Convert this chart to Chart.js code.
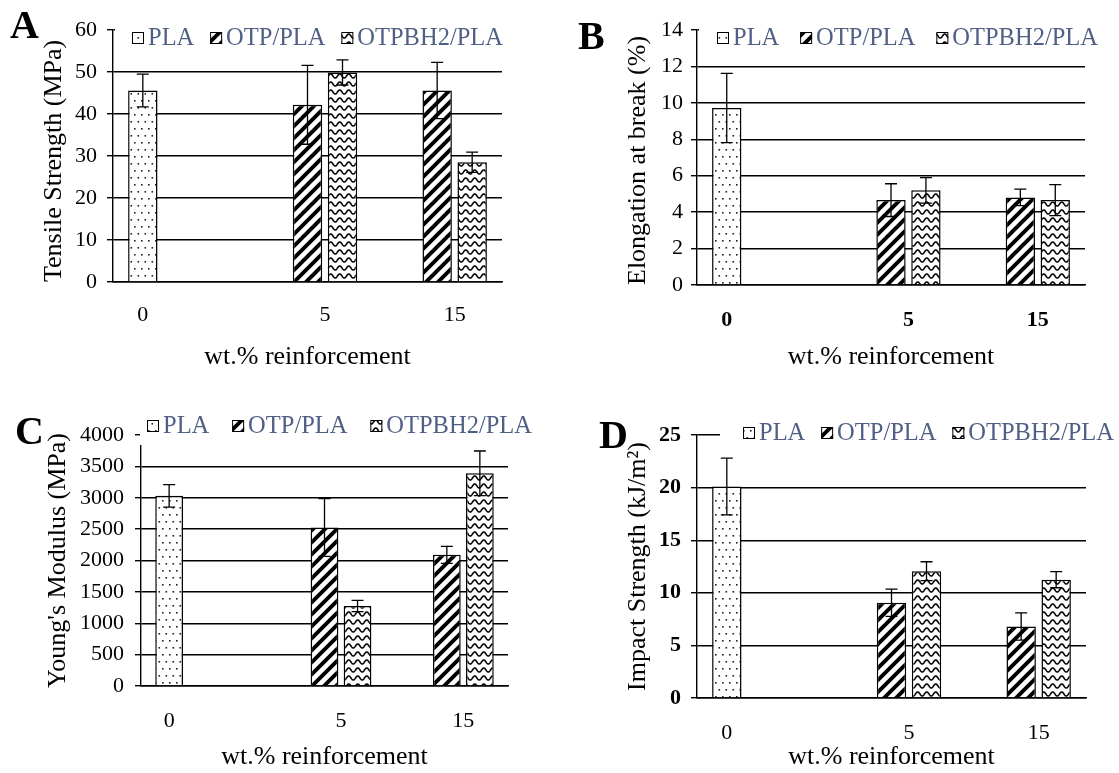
<!DOCTYPE html>
<html><head><meta charset="utf-8">
<script src="https://cdn.jsdelivr.net/npm/chart.js@4.4.1/dist/chart.umd.min.js"></script>
<style>
html,body{margin:0;padding:0;background:#fff;width:1119px;height:773px;overflow:hidden;position:relative}
canvas{position:absolute}
.lab{position:absolute;font-family:'Liberation Serif','Times New Roman',serif;font-weight:bold;font-size:40px;line-height:1;color:#000}
</style></head><body>
<canvas id="cA" width="560" height="386" style="left:0;top:0"></canvas>
<canvas id="cB" width="559" height="386" style="left:560px;top:0"></canvas>
<canvas id="cC" width="560" height="387" style="left:0;top:386px"></canvas>
<canvas id="cD" width="559" height="387" style="left:560px;top:386px"></canvas>
<div class="lab" style="left:10px;top:5px">A</div>
<div class="lab" style="left:578px;top:16px">B</div>
<div class="lab" style="left:15px;top:411px">C</div>
<div class="lab" style="left:599px;top:415px">D</div>
<script>
// ---------------- DATA ----------------
const categories = ['0', '5', '15'];
const seriesNames = ['PLA', 'OTP/PLA', 'OTPBH2/PLA'];
const xTitle = 'wt.% reinforcement';

// A: Tensile strength (MPa)
const tensilePLA = [45.6, null, null];
const tensileOTP = [null, 42.2, 45.6];
const tensileOTPBH2 = [null, 49.9, 28.5];
const tensilePLAErr = [3.9, null, null];
const tensileOTPErr = [null, 9.4, 6.7];
const tensileOTPBH2Err = [null, 3.0, 2.4];
const tensileTicks = [0, 10, 20, 30, 40, 50, 60];

// B: Elongation at break (%)
const elongPLA = [9.72, null, null];
const elongOTP = [null, 4.66, 4.81];
const elongOTPBH2 = [null, 5.2, 4.66];
const elongPLAErr = [1.9, null, null];
const elongOTPErr = [null, 0.9, 0.45];
const elongOTPBH2Err = [null, 0.7, 0.85];
const elongTicks = [0, 2, 4, 6, 8, 10, 12, 14];

// C: Young's modulus (MPa)
const modulusPLA = [3030, null, null];
const modulusOTP = [null, 2525, 2090];
const modulusOTPBH2 = [null, 1275, 3390];
const modulusPLAErr = [180, null, null];
const modulusOTPErr = [null, 460, 135];
const modulusOTPBH2Err = [null, 90, 355];
const modulusTicks = [0, 500, 1000, 1500, 2000, 2500, 3000, 3500, 4000];

// D: Impact strength (kJ/m2)
const impactPLA = [20.1, null, null];
const impactOTP = [null, 9.05, 6.8];
const impactOTPBH2 = [null, 12.05, 11.25];
const impactPLAErr = [2.7, null, null];
const impactOTPErr = [null, 1.3, 1.3];
const impactOTPBH2Err = [null, 0.9, 0.77];
const impactTicks = [0, 5, 10, 15, 20, 25];

// ---------------- STYLE / HELPERS ----------------
const FONT = "'Liberation Serif','Times New Roman',serif";

function tile(w, h, draw) {
  const c = document.createElement('canvas');
  c.width = w; c.height = h;
  const g = c.getContext('2d');
  g.fillStyle = '#fff'; g.fillRect(0, 0, w, h);
  draw(g, w, h);
  return c;
}
function makePatterns(ctx) {
  const dots = ctx.createPattern(tile(7, 14, g => {
    g.fillStyle = '#222';
    g.fillRect(1, 2, 1.6, 1.6);
    g.fillRect(4.5, 9, 1.6, 1.6);
  }), 'repeat');
  const stripes = ctx.createPattern(tile(12, 12, g => {
    g.strokeStyle = '#000'; g.lineWidth = 3.9;
    for (const k of [-12, 0, 12]) {
      g.beginPath(); g.moveTo(k - 3, 15); g.lineTo(k + 15, -3); g.stroke();
    }
  }), 'repeat');
  const wave = ctx.createPattern(tile(9, 8, g => {
    g.strokeStyle = '#000'; g.lineWidth = 1.6; g.beginPath();
    for (let x = -1; x <= 10; x += 0.25) {
      const y = 4 + 2 * Math.sin(2 * Math.PI * x / 9);
      if (x === -1) g.moveTo(x, y); else g.lineTo(x, y);
    }
    g.stroke();
  }), 'repeat');
  return [dots, stripes, wave];
}

const errorBarPlugin = {
  id: 'errorBars',
  afterDatasetsDraw(chart, args, o) {
    const ctx = chart.ctx, ys = chart.scales.y;
    ctx.save();
    ctx.strokeStyle = '#000'; ctx.lineWidth = 1.3;
    chart.data.datasets.forEach((ds, di) => {
      const meta = chart.getDatasetMeta(di);
      ds.data.forEach((v, i) => {
        const e = ds.errors[i];
        if (v == null || e == null) return;
        const x = meta.data[i].x;
        const yt = ys.getPixelForValue(v + e), yb = ys.getPixelForValue(v - e);
        const cap = 6;
        ctx.beginPath();
        ctx.moveTo(x, yt); ctx.lineTo(x, yb);
        ctx.moveTo(x - cap, yt); ctx.lineTo(x + cap, yt);
        ctx.moveTo(x - cap, yb); ctx.lineTo(x + cap, yb);
        ctx.stroke();
      });
    });
    ctx.restore();
  }
};

const groupLabelPlugin = {
  id: 'groupLabels',
  afterDraw(chart, args, o) {
    const ctx = chart.ctx;
    ctx.save();
    ctx.font = (o.bold ? 'bold ' : '') + o.size + 'px ' + FONT;
    ctx.fillStyle = '#000'; ctx.textAlign = 'center'; ctx.textBaseline = 'middle';
    chart.data.labels.forEach((lab, i) => {
      const xs = [];
      chart.data.datasets.forEach((ds, di) => {
        if (ds.data[i] != null) xs.push(chart.getDatasetMeta(di).data[i].x);
      });
      if (!xs.length) return;
      const x = xs.reduce((a, b) => a + b, 0) / xs.length;
      ctx.fillText(lab, x, chart.chartArea.bottom + o.offset);
    });
    ctx.restore();
  }
};

const legendPlugin = {
  id: 'patternLegend',
  afterDraw(chart, args, o) {
    const ctx = chart.ctx;
    ctx.save();
    ctx.font = o.size + 'px ' + FONT;
    const box = 12, boxGap = 4;
    const items = chart.data.datasets.map(ds => ({label: ds.label, fill: ds.backgroundColor, w: ctx.measureText(ds.label).width}));
    const fixed = items.reduce((s, it) => s + box + boxGap + it.w, 0);
    const gap = (o.end - o.start - fixed) / (items.length - 1);
    ctx.fillStyle = '#fff';
    ctx.fillRect(o.bgLeft, o.bgTop, chart.width - o.bgLeft, o.bgBottom - o.bgTop);
    let x = o.start;
    items.forEach(it => {
      ctx.fillStyle = it.fill;
      ctx.fillRect(x, o.y - box / 2, box, box);
      ctx.strokeStyle = '#000'; ctx.lineWidth = 1;
      ctx.strokeRect(x + 0.5, o.y - box / 2 + 0.5, box - 1, box - 1);
      x += box + boxGap;
      ctx.fillStyle = '#505f84'; ctx.textAlign = 'left'; ctx.textBaseline = 'middle';
      ctx.fillText(it.label, x, o.y + 1);
      x += it.w + gap;
    });
    ctx.restore();
  }
};

function makeChart(id, c) {
  const canvas = document.getElementById(id);
  const ctx = canvas.getContext('2d');
  const pats = makePatterns(ctx);
  const vals = [c.pla, c.otp, c.bh2];
  const errs = [c.plaErr, c.otpErr, c.bh2Err];
  const datasets = seriesNames.map((name, k) => ({
    label: name,
    data: vals[k],
    errors: errs[k],
    backgroundColor: pats[k],
    borderColor: '#000',
    borderWidth: 1.5,
    categoryPercentage: 0.81,
    barPercentage: 0.84
  }));
  return new Chart(ctx, {
    type: 'bar',
    data: {labels: categories, datasets},
    plugins: [errorBarPlugin, groupLabelPlugin, legendPlugin],
    options: {
      responsive: false, animation: false, events: [],
      layout: {padding: {left: 0, right: c.padRight, top: c.padTop, bottom: 0}},
      plugins: {
        legend: {display: false}, tooltip: {enabled: false},
        groupLabels: {offset: c.xLabOffset, size: 22, bold: c.xBold},
        patternLegend: c.legend
      },
      scales: {
        x: {
          ticks: {display: false},
          grid: {display: false},
          border: {display: true, color: '#000', width: 1.4},
          afterFit: s => { s.height = c.xHeight; },
          title: {display: true, text: xTitle, color: '#000', font: {family: FONT, size: 26}, padding: {top: 0, bottom: c.xTitlePad}}
        },
        y: {
          min: 0, max: c.ticks[c.ticks.length - 1],
          afterBuildTicks: s => { s.ticks = c.ticks.map(v => ({value: v})); },
          afterFit: s => { s.width = c.yWidth; },
          grid: {color: '#000', lineWidth: 1.4, drawTicks: true, tickLength: 6, tickColor: '#000', tickWidth: 1.4},
          border: {display: true, color: '#000', width: 1.4},
          ticks: {color: '#000', padding: c.tickPad, callback: v => String(v), font: {family: FONT, size: 22, weight: c.yBold ? 'bold' : 'normal'}},
          title: {display: true, text: c.yTitle, color: '#000', align: c.yTitleAlign, font: {family: FONT, size: 26}, padding: {top: c.yTitlePad, bottom: 0}}
        }
      }
    }
  });
}

makeChart('cA', {
  pla: tensilePLA, otp: tensileOTP, bh2: tensileOTPBH2,
  plaErr: tensilePLAErr, otpErr: tensileOTPErr, bh2Err: tensileOTPBH2Err,
  ticks: tensileTicks, yTitle: 'Tensile Strength (MPa)', yTitleAlign: 'start', yTitlePad: 39,
  padRight: 58, padTop: 30, yWidth: 113, xHeight: 104, xTitlePad: 13, xLabOffset: 33, xBold: false, yBold: false, tickPad: 10,
  legend: {start: 132, end: 503, y: 38, size: 24.5, bgLeft: 115, bgTop: 22, bgBottom: 52}
});
makeChart('cB', {
  pla: elongPLA, otp: elongOTP, bh2: elongOTPBH2,
  plaErr: elongPLAErr, otpErr: elongOTPErr, bh2Err: elongOTPBH2Err,
  ticks: elongTicks, yTitle: 'Elongation at break (%)', yTitleAlign: 'start', yTitlePad: 63,
  padRight: 34, padTop: 30, yWidth: 137, xHeight: 101, xTitlePad: 13, xLabOffset: 35, xBold: true, yBold: false, tickPad: 8,
  legend: {start: 157, end: 538, y: 38, size: 24.5, bgLeft: 139, bgTop: 22, bgBottom: 52}
});
makeChart('cC', {
  pla: modulusPLA, otp: modulusOTP, bh2: modulusOTPBH2,
  plaErr: modulusPLAErr, otpErr: modulusOTPErr, bh2Err: modulusOTPBH2Err,
  ticks: modulusTicks, yTitle: "Young's Modulus (MPa)", yTitleAlign: 'center', yTitlePad: 43,
  padRight: 52, padTop: 49, yWidth: 141, xHeight: 87, xTitlePad: 0, xLabOffset: 35, xBold: false, yBold: false, tickPad: 11,
  legend: {start: 147, end: 532, y: 40, size: 24.5, bgLeft: 140, bgTop: 20, bgBottom: 59}
});
makeChart('cD', {
  pla: impactPLA, otp: impactOTP, bh2: impactOTPBH2,
  plaErr: impactPLAErr, otpErr: impactOTPErr, bh2Err: impactOTPBH2Err,
  ticks: impactTicks, yTitle: 'Impact Strength (kJ/m²)', yTitleAlign: 'center', yTitlePad: 63,
  padRight: 33, padTop: 49, yWidth: 137, xHeight: 75, xTitlePad: 0, xLabOffset: 35, xBold: false, yBold: true, tickPad: 10,
  legend: {start: 183, end: 554, y: 47, size: 24.5, bgLeft: 160, bgTop: 32, bgBottom: 62}
});
</script>
</body></html>
